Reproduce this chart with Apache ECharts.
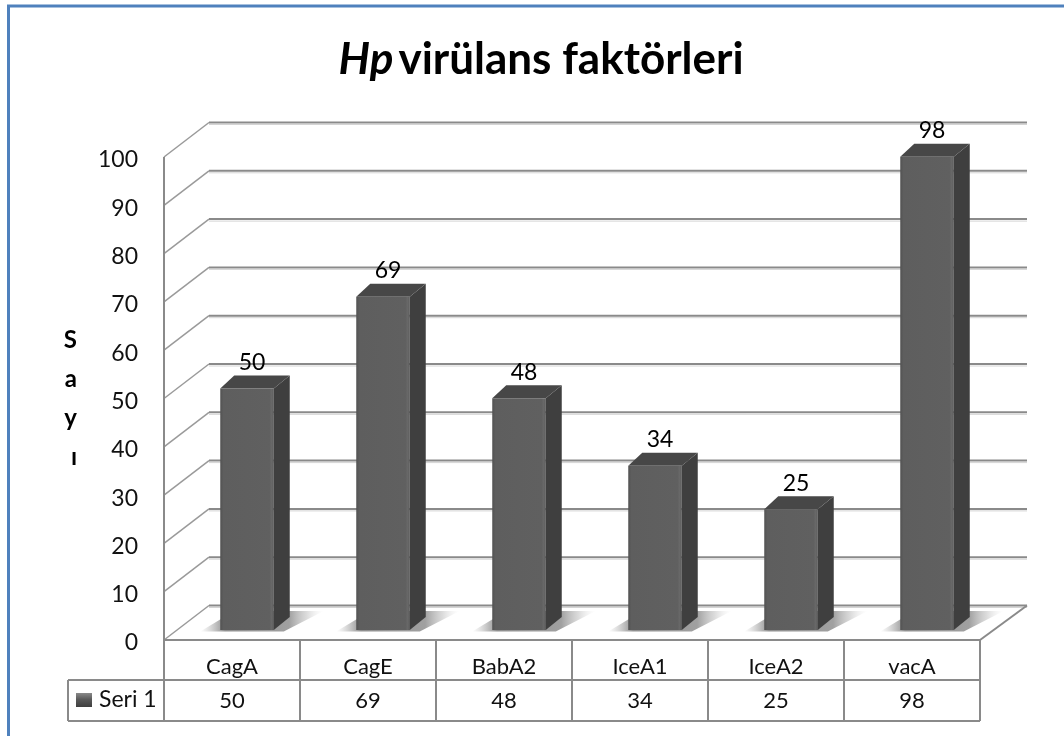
<!DOCTYPE html>
<html>
<head>
<meta charset="utf-8">
<style>html,body{margin:0;padding:0;background:#fff}#c{width:1064px;height:736px}</style>
<script src="https://cdn.jsdelivr.net/npm/echarts@6/dist/echarts.min.js"></script>
</head>
<body>
<div id="c"></div>
<script>
const categories = ['CagA','CagE','BabA2','IceA1','IceA2','vacA'];
const seriesName = 'Seri 1';
const values = [50,69,48,34,25,98];
const yTicks = [0,10,20,30,40,50,60,70,80,90,100];
const FONT = 'Lato';
const LINE = '#8a8a8a';

const chart = echarts.init(document.getElementById('c'), null, {renderer:'canvas'});

function wall(params, api){
  const cs = params.coordSys;
  const y = api.coord([0, api.value(1)])[1];
  const x0 = cs.x, x1 = cs.x + cs.width;
  const dx = 45, dy = -34.5;
  const kids = [
    {type:'polyline', shape:{points:[[x0,y],[x0+dx,y+dy]]}, style:{stroke:'#9a9a9a',lineWidth:1.5,fill:null}},
    {type:'line', shape:{x1:x0+dx,y1:y+dy,x2:x1+47,y2:y+dy}, style:{stroke:LINE,lineWidth:2}},
    {type:'line', shape:{x1:x0+dx,y1:y+dy+2,x2:x1+47,y2:y+dy+2}, style:{stroke:'#d4d4d4',lineWidth:1}}
  ];
  if (api.value(1) === 0) {
    kids.push({type:'line', shape:{x1:x1,y1:y,x2:x1+47,y2:y+dy}, style:{stroke:LINE,lineWidth:2}});
  }
  return {type:'group', children:kids};
}

function frame(params, api){
  const cs = params.coordSys;
  const top = cs.y + cs.height, left = cs.x, right = cs.x + cs.width;
  const band = cs.width / categories.length;
  const r1 = top + 40, r2 = top + 81, sx = 68;
  const st = {stroke:LINE, lineWidth:2};
  const kids = [
    {type:'line', shape:{x1:left,y1:cs.y,x2:left,y2:r2}, style:st},
    {type:'line', shape:{x1:left,y1:top,x2:right,y2:top}, style:st},
    {type:'line', shape:{x1:sx,y1:r1,x2:right,y2:r1}, style:st},
    {type:'line', shape:{x1:sx,y1:r2,x2:right,y2:r2}, style:st},
    {type:'line', shape:{x1:sx,y1:r1,x2:sx,y2:r2}, style:st}
  ];
  for (let i = 1; i <= categories.length; i++) {
    const x = left + band*i;
    kids.push({type:'line', shape:{x1:x,y1:top,x2:x,y2:r2}, style:st});
  }
  return {type:'group', children:kids};
}

function bar(params, api){
  const i = api.value(0), v = api.value(1);
  const p = api.coord([i, v]), b = api.coord([i, 0]);
  const w = 53.5, off = 15, lift = 10, ddx = 16, ddy = 13;
  const L = p[0] + off - w/2, R = L + w;
  const T = p[1] - lift, B = b[1] - lift;
  const grad = (stops, x2, y2) => new echarts.graphic.LinearGradient(0,0,x2,y2,stops);
  return {type:'group', children:[
    {type:'polygon', shape:{points:[[L-20,B+1.5],[R+10,B+1.5],[R+50,B-19],[L+14,B-19]]},
      style:{fill:grad([{offset:0,color:'rgba(170,170,170,0)'},{offset:.2,color:'rgba(130,130,130,.9)'},{offset:.72,color:'rgba(150,150,150,.9)'},{offset:.86,color:'rgba(195,195,195,.6)'},{offset:1,color:'rgba(230,230,230,0)'}],1,0)}},
    {type:'polygon', shape:{points:[[R,T],[R+ddx,T-ddy],[R+ddx,B-ddy],[R,B]]}, style:{fill:'#3f3f3f'}},
    {type:'polygon', shape:{points:[[L,T],[L+ddx-2,T-ddy],[R+ddx,T-ddy],[R,T]]}, style:{fill:'#474747'}},
    {type:'rect', shape:{x:L,y:T,width:w,height:B-T},
      style:{fill:grad([{offset:0,color:'#525252'},{offset:.06,color:'#5e5e5e'},{offset:.92,color:'#606060'},{offset:.97,color:'#6a6a6a'},{offset:1,color:'#4c4c4c'}],1,0)}},
    {type:'text', x:p[0]+20, y:T-26, style:{text:String(v),fill:'#000',font:'23px '+FONT,align:'center',verticalAlign:'middle'}}
  ]};
}

chart.setOption({
  animation:false,
  backgroundColor:'#fff',
  title:{
    text:'{i|Hp} {b|virülans faktörleri}',
    left:536, top:33, textAlign:'center',
    textStyle:{rich:{
      i:{fontFamily:FONT,fontSize:44,fontWeight:'bold',fontStyle:'italic',color:'#000'},
      b:{fontFamily:FONT,fontSize:44,fontWeight:'bold',color:'#000'}
    }}
  },
  grid:{left:164,right:84,top:157,bottom:96,containLabel:false},
  xAxis:[
    {type:'category',data:categories,position:'bottom',
      axisLine:{show:false},axisTick:{show:false},splitLine:{show:false},
      axisLabel:{fontFamily:FONT,fontSize:22,color:'#111',margin:16}},
    {type:'category',data:values.map(String),position:'bottom',offset:0,
      axisLine:{show:false},axisTick:{show:false},splitLine:{show:false},
      axisLabel:{fontFamily:FONT,fontSize:22,color:'#111',margin:50}}
  ],
  yAxis:{type:'value',min:0,max:100,interval:10,
    axisLine:{show:false},axisTick:{show:false},splitLine:{show:false},
    axisLabel:{fontFamily:FONT,fontSize:23,color:'#111',margin:26,verticalAlign:'top',lineHeight:6},
    name:'S\na\ny\nı',nameLocation:'middle',nameRotate:0,nameGap:87,
    nameTextStyle:{fontFamily:FONT,fontSize:24,fontWeight:'bold',color:'#000',lineHeight:39,padding:[10,0,0,0]}
  },
  graphic:[
    {type:'line',shape:{x1:8.5,y1:5,x2:8.5,y2:736},style:{stroke:'#4f81bd',lineWidth:3}},
    {type:'line',shape:{x1:7,y1:6,x2:1064,y2:6},style:{stroke:'#4f81bd',lineWidth:3}},
    {type:'rect',shape:{x:76,y:693,width:16,height:14},
      style:{fill:new echarts.graphic.LinearGradient(0,0,0,1,[{offset:0,color:'#8a8a8a'},{offset:.45,color:'#5a5a5a'},{offset:1,color:'#3f3f3f'}])}},
    {type:'text',x:99,y:700,style:{text:seriesName,fill:'#111',font:'23px '+FONT,verticalAlign:'middle'}}
  ],
  series:[
    {type:'custom',name:'walls',coordinateSystem:'cartesian2d',z:1,silent:true,clip:false,
      data:yTicks.map(t=>[0,t]),renderItem:wall},
    {type:'custom',name:'frame',coordinateSystem:'cartesian2d',z:2,silent:true,clip:false,
      data:[[0,0]],renderItem:frame},
    {type:'custom',name:seriesName,coordinateSystem:'cartesian2d',z:3,clip:false,
      data:values.map((v,i)=>[i,v]),renderItem:bar}
  ]
});
</script>
</body>
</html>
